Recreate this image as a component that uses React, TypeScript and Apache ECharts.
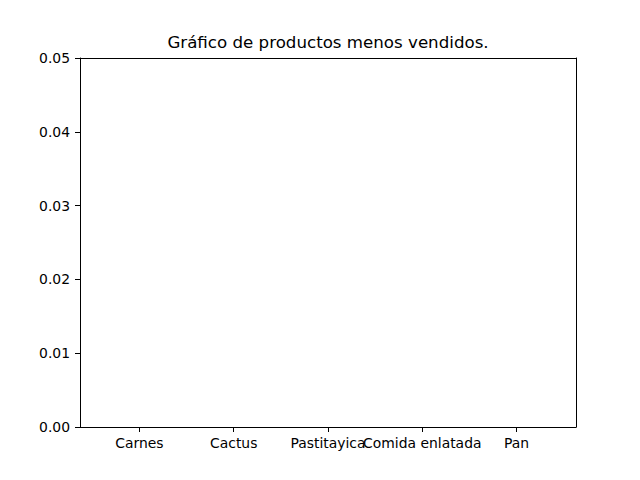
import React, { useEffect, useRef } from "react";
import * as echarts from "echarts";

const categories = ["Carnes", "Cactus", "Pastitayica", "Comida enlatada", "Pan"];
const values = [0, 0, 0, 0, 0];
const yTicks = [0, 0.01, 0.02, 0.03, 0.04, 0.05];
const titleText = "Gráfico de productos menos vendidos.";

export default function App() {
  const ref = useRef<HTMLDivElement>(null);
  useEffect(() => {
    if (!ref.current) return;
    const chart = echarts.init(ref.current, null, { renderer: "svg" });
    const positions = categories.map((_, i) => i);
    const font = "DejaVu Sans";
    const line = { show: true, onZero: false, lineStyle: { color: "#000", width: 1 } };
    chart.setOption({
      animation: false,
      backgroundColor: "#ffffff",
      title: {
        text: titleText,
        left: 328,
        textAlign: "center",
        top: 34,
        padding: 0,
        textStyle: { fontFamily: font, fontSize: 16.67, fontWeight: "normal", color: "#000" },
      },
      grid: { left: 80, right: 64, top: 58, bottom: 53, containLabel: false },
      xAxis: [
        {
          type: "value",
          min: -0.63,
          max: 4.63,
          splitLine: { show: false },
          axisLine: line,
          axisTick: { show: true, length: 5, inside: false, customValues: positions, lineStyle: { color: "#000" } },
          axisLabel: {
            customValues: positions,
            formatter: (v: number) => categories[Math.round(v)] ?? "",
            margin: 9,
            color: "#000",
            fontFamily: font,
            fontSize: 13.9,
          },
        },
        {
          type: "value",
          position: "top",
          min: -0.63,
          max: 4.63,
          splitLine: { show: false },
          axisLine: line,
          axisTick: { show: false },
          axisLabel: { show: false },
        },
      ],
      yAxis: [
        {
          type: "value",
          min: 0,
          max: 0.05,
          interval: 0.01,
          splitLine: { show: false },
          axisLine: line,
          axisTick: { show: true, length: 5, lineStyle: { color: "#000" } },
          axisLabel: {
            formatter: (v: number) => v.toFixed(2),
            margin: 10,
            color: "#000",
            fontFamily: font,
            fontSize: 13.9,
          },
        },
        {
          type: "value",
          position: "right",
          min: 0,
          max: 0.05,
          splitLine: { show: false },
          axisLine: line,
          axisTick: { show: false },
          axisLabel: { show: false },
        },
      ],
      series: [
        {
          type: "bar",
          xAxisIndex: 0,
          yAxisIndex: 0,
          barWidth: "15%",
          itemStyle: { color: "#1f77b4" },
          data: positions.map((p, i) => [p, values[i]]),
        },
      ],
    });
    return () => chart.dispose();
  }, []);
  return <div ref={ref} style={{ position: "fixed", left: 0, top: 0, width: 640, height: 480 }} />;
}
